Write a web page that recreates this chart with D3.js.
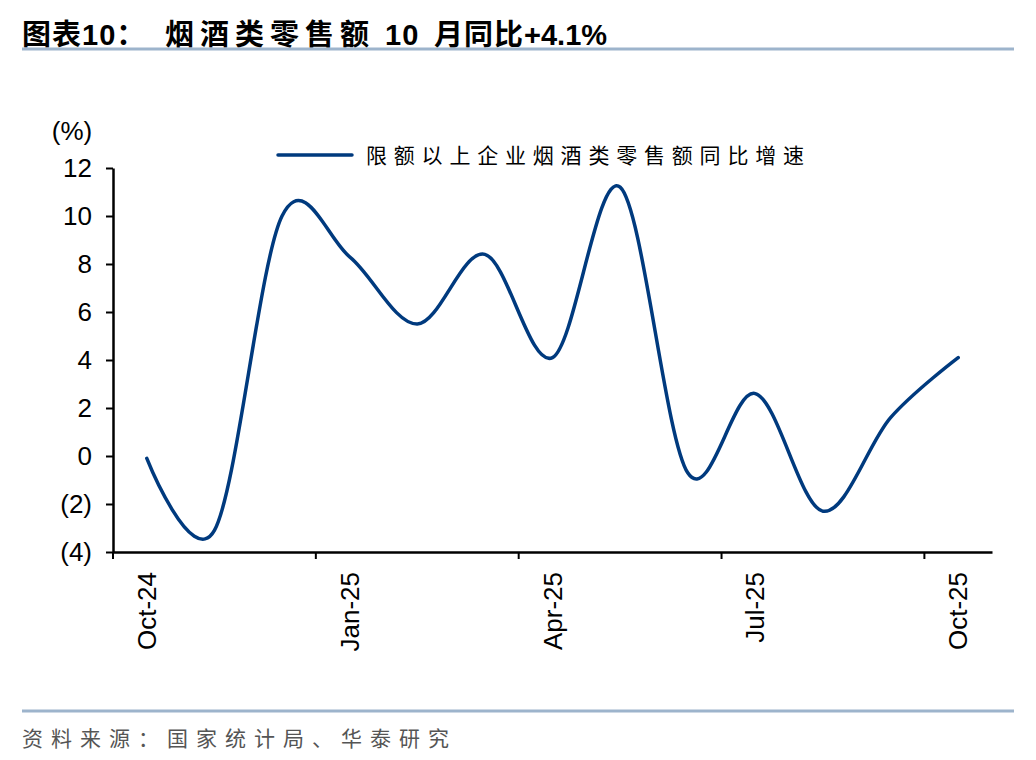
<!DOCTYPE html>
<html>
<head>
<meta charset="utf-8">
<script src="https://cdn.jsdelivr.net/npm/d3@7"></script>
<style>
  html, body { margin: 0; padding: 0; background: #fff; }
  svg { display: block; }
</style>
</head>
<body>
<svg id="chart" width="1036" height="760"></svg>
<script>
// ---- data ----
const months = ["Oct-24","Nov-24","Dec-24","Jan-25","Feb-25","Mar-25","Apr-25","May-25","Jun-25","Jul-25","Aug-25","Sep-25","Oct-25"];
const yoyGrowth = [-0.1, -3.1, 10.0, 8.3, 5.5, 8.4, 4.1, 11.2, -0.7, 2.6, -2.3, 1.6, 4.1];
const xTickLabels = ["Oct-24","Jan-25","Apr-25","Jul-25","Oct-25"];
const yTickValues = [-4, -2, 0, 2, 4, 6, 8, 10, 12];
const legendText = "限额以上企业烟酒类零售额同比增速";
const sourceText = "资料来源：国家统计局、华泰研究";
const unitText = "(%)";

const svg = d3.select("#chart");
const latin = "Arial, 'Liberation Sans', sans-serif";
const cjk = "'Noto Sans CJK SC', sans-serif";
const mixed = "Arial, 'Liberation Sans', 'Noto Sans CJK SC', sans-serif";
const lineColor = "#003a7e";
const ruleColor = "#9db4cc";

// title
const title = svg.append("text").attr("y", 45)
  .attr("font-family", mixed).attr("font-weight", "bold")
  .attr("font-size", 29).attr("fill", "#000");
title.append("tspan").attr("x", 22).attr("letter-spacing", 1).text("图表10：");
title.append("tspan").attr("x", 165).attr("letter-spacing", 6).text("烟酒类零售额");
title.append("tspan").attr("x", 385).attr("letter-spacing", 1).text("10");
title.append("tspan").attr("x", 434).attr("letter-spacing", 1).text("月同比");
title.append("tspan").attr("letter-spacing", 0).text("+4.1%");
svg.append("line").attr("x1", 22).attr("x2", 1014).attr("y1", 49).attr("y2", 49)
  .attr("stroke", ruleColor).attr("stroke-width", 3);

// footer
svg.append("line").attr("x1", 22).attr("x2", 1014).attr("y1", 711).attr("y2", 711)
  .attr("stroke", ruleColor).attr("stroke-width", 3);
svg.append("text").attr("x", 22).attr("y", 746)
  .attr("font-family", cjk).attr("font-size", 21).attr("fill", "#555")
  .attr("letter-spacing", 8).text(sourceText);

// scales
const x = d3.scaleBand().domain(months).range([113, 992]);
const y = d3.scaleLinear().domain([-4, 12]).range([552, 168]);
const cx = d => x(d) + x.bandwidth() / 2;

// y axis
const yAxis = svg.append("g").attr("transform", "translate(113,0)")
  .call(d3.axisLeft(y).tickValues(yTickValues).tickSize(7).tickSizeOuter(0).tickPadding(14)
    .tickFormat(d => d < 0 ? `(${-d})` : `${d}`));
yAxis.select(".domain").attr("stroke", "#000").attr("stroke-width", 2.5);
yAxis.selectAll(".tick line").attr("stroke", "#000").attr("stroke-width", 2);
yAxis.selectAll(".tick text").attr("font-family", latin).attr("font-size", 26).attr("fill", "#000");

// unit label
svg.append("text").attr("x", 72).attr("y", 140).attr("text-anchor", "middle")
  .attr("font-family", latin).attr("font-size", 26).attr("fill", "#000").text(unitText);

// x axis
const xAxis = svg.append("g").attr("transform", "translate(0,552)")
  .call(d3.axisBottom(x).tickValues(xTickLabels).tickSize(7).tickSizeOuter(0).tickPadding(0));
xAxis.select(".domain").attr("stroke", "#000").attr("stroke-width", 2.5);
xAxis.selectAll(".tick line").attr("stroke", "#000").attr("stroke-width", 2)
  .attr("transform", `translate(${-x.bandwidth() / 2},0)`);
xAxis.selectAll(".tick text")
  .attr("font-family", latin).attr("font-size", 26).attr("fill", "#000")
  .attr("text-anchor", "end").attr("dy", "0.35em")
  .attr("transform", "translate(0,20) rotate(-90)")
  .attr("y", 0).attr("x", 0);

// line
const line = d3.line().x((d, i) => cx(months[i])).y(d => y(d)).curve(d3.curveCardinal.tension(0));
svg.append("path").datum(yoyGrowth).attr("d", line)
  .attr("fill", "none").attr("stroke", lineColor).attr("stroke-width", 3.5)
  .attr("stroke-linecap", "round").attr("stroke-linejoin", "round");

// legend
svg.append("line").attr("x1", 278).attr("x2", 352).attr("y1", 155).attr("y2", 155)
  .attr("stroke", lineColor).attr("stroke-width", 3.5).attr("stroke-linecap", "round");
svg.append("text").attr("x", 366).attr("y", 163)
  .attr("font-family", cjk).attr("font-size", 21).attr("fill", "#000")
  .attr("letter-spacing", 6.8).text(legendText);
</script>
</body>
</html>
